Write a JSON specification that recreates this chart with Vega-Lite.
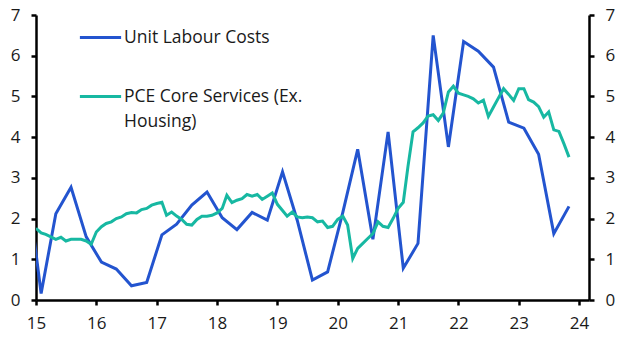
{
  "$schema": "https://vega.github.io/schema/vega-lite/v6.json",
  "width": 553,
  "height": 285,
  "autosize": {"type": "none"},
  "padding": {"left": 36, "top": 15, "right": 43, "bottom": 57},
  "background": "white",
  "config": {
    "font": "Open Sans",
    "view": {"stroke": null},
    "axis": {
      "grid": false,
      "domainColor": "#000000",
      "domainWidth": 2.5,
      "tickColor": "#000000",
      "tickWidth": 2.5,
      "tickSize": 5,
      "labelFont": "Open Sans",
      "labelFontSize": 17,
      "labelColor": "#1a1a1a",
      "title": null
    }
  },
  "datasets": {
    "ulc": [
      {"date": "2014-11-01", "series": "Unit Labour Costs", "value": 3.1},
      {"date": "2015-02-01", "series": "Unit Labour Costs", "value": 0.16},
      {"date": "2015-05-01", "series": "Unit Labour Costs", "value": 2.12},
      {"date": "2015-08-01", "series": "Unit Labour Costs", "value": 2.77},
      {"date": "2015-11-01", "series": "Unit Labour Costs", "value": 1.55},
      {"date": "2016-02-01", "series": "Unit Labour Costs", "value": 0.93},
      {"date": "2016-05-01", "series": "Unit Labour Costs", "value": 0.76},
      {"date": "2016-08-01", "series": "Unit Labour Costs", "value": 0.35},
      {"date": "2016-11-01", "series": "Unit Labour Costs", "value": 0.43},
      {"date": "2017-02-01", "series": "Unit Labour Costs", "value": 1.6},
      {"date": "2017-05-01", "series": "Unit Labour Costs", "value": 1.86},
      {"date": "2017-08-01", "series": "Unit Labour Costs", "value": 2.33},
      {"date": "2017-11-01", "series": "Unit Labour Costs", "value": 2.65},
      {"date": "2018-02-01", "series": "Unit Labour Costs", "value": 2.02},
      {"date": "2018-05-01", "series": "Unit Labour Costs", "value": 1.73},
      {"date": "2018-08-01", "series": "Unit Labour Costs", "value": 2.15},
      {"date": "2018-11-01", "series": "Unit Labour Costs", "value": 1.96},
      {"date": "2019-02-01", "series": "Unit Labour Costs", "value": 3.15},
      {"date": "2019-05-01", "series": "Unit Labour Costs", "value": 1.96},
      {"date": "2019-08-01", "series": "Unit Labour Costs", "value": 0.49},
      {"date": "2019-11-01", "series": "Unit Labour Costs", "value": 0.69},
      {"date": "2020-02-01", "series": "Unit Labour Costs", "value": 2.15},
      {"date": "2020-05-01", "series": "Unit Labour Costs", "value": 3.7},
      {"date": "2020-08-01", "series": "Unit Labour Costs", "value": 1.49},
      {"date": "2020-11-01", "series": "Unit Labour Costs", "value": 4.13},
      {"date": "2021-02-01", "series": "Unit Labour Costs", "value": 0.78},
      {"date": "2021-05-01", "series": "Unit Labour Costs", "value": 1.39},
      {"date": "2021-08-01", "series": "Unit Labour Costs", "value": 6.5},
      {"date": "2021-11-01", "series": "Unit Labour Costs", "value": 3.76},
      {"date": "2022-02-01", "series": "Unit Labour Costs", "value": 6.35},
      {"date": "2022-05-01", "series": "Unit Labour Costs", "value": 6.11},
      {"date": "2022-08-01", "series": "Unit Labour Costs", "value": 5.72},
      {"date": "2022-11-01", "series": "Unit Labour Costs", "value": 4.37},
      {"date": "2023-02-01", "series": "Unit Labour Costs", "value": 4.22},
      {"date": "2023-05-01", "series": "Unit Labour Costs", "value": 3.58},
      {"date": "2023-08-01", "series": "Unit Labour Costs", "value": 1.63},
      {"date": "2023-11-01", "series": "Unit Labour Costs", "value": 2.3}
    ],
    "pce": [
      {"date": "2015-01-01", "series": "PCE Core Services (Ex. Housing)", "value": 1.76},
      {"date": "2015-02-01", "series": "PCE Core Services (Ex. Housing)", "value": 1.65},
      {"date": "2015-03-01", "series": "PCE Core Services (Ex. Housing)", "value": 1.61},
      {"date": "2015-04-01", "series": "PCE Core Services (Ex. Housing)", "value": 1.55},
      {"date": "2015-05-01", "series": "PCE Core Services (Ex. Housing)", "value": 1.49},
      {"date": "2015-06-01", "series": "PCE Core Services (Ex. Housing)", "value": 1.54},
      {"date": "2015-07-01", "series": "PCE Core Services (Ex. Housing)", "value": 1.45},
      {"date": "2015-08-01", "series": "PCE Core Services (Ex. Housing)", "value": 1.49},
      {"date": "2015-09-01", "series": "PCE Core Services (Ex. Housing)", "value": 1.49},
      {"date": "2015-10-01", "series": "PCE Core Services (Ex. Housing)", "value": 1.49},
      {"date": "2015-11-01", "series": "PCE Core Services (Ex. Housing)", "value": 1.45},
      {"date": "2015-12-01", "series": "PCE Core Services (Ex. Housing)", "value": 1.37},
      {"date": "2016-01-01", "series": "PCE Core Services (Ex. Housing)", "value": 1.67},
      {"date": "2016-02-01", "series": "PCE Core Services (Ex. Housing)", "value": 1.8},
      {"date": "2016-03-01", "series": "PCE Core Services (Ex. Housing)", "value": 1.88},
      {"date": "2016-04-01", "series": "PCE Core Services (Ex. Housing)", "value": 1.92},
      {"date": "2016-05-01", "series": "PCE Core Services (Ex. Housing)", "value": 2.0},
      {"date": "2016-06-01", "series": "PCE Core Services (Ex. Housing)", "value": 2.04},
      {"date": "2016-07-01", "series": "PCE Core Services (Ex. Housing)", "value": 2.12},
      {"date": "2016-08-01", "series": "PCE Core Services (Ex. Housing)", "value": 2.15},
      {"date": "2016-09-01", "series": "PCE Core Services (Ex. Housing)", "value": 2.14},
      {"date": "2016-10-01", "series": "PCE Core Services (Ex. Housing)", "value": 2.22},
      {"date": "2016-11-01", "series": "PCE Core Services (Ex. Housing)", "value": 2.25},
      {"date": "2016-12-01", "series": "PCE Core Services (Ex. Housing)", "value": 2.33},
      {"date": "2017-01-01", "series": "PCE Core Services (Ex. Housing)", "value": 2.37},
      {"date": "2017-02-01", "series": "PCE Core Services (Ex. Housing)", "value": 2.4},
      {"date": "2017-03-01", "series": "PCE Core Services (Ex. Housing)", "value": 2.08},
      {"date": "2017-04-01", "series": "PCE Core Services (Ex. Housing)", "value": 2.16},
      {"date": "2017-05-01", "series": "PCE Core Services (Ex. Housing)", "value": 2.06},
      {"date": "2017-06-01", "series": "PCE Core Services (Ex. Housing)", "value": 1.98},
      {"date": "2017-07-01", "series": "PCE Core Services (Ex. Housing)", "value": 1.86},
      {"date": "2017-08-01", "series": "PCE Core Services (Ex. Housing)", "value": 1.84},
      {"date": "2017-09-01", "series": "PCE Core Services (Ex. Housing)", "value": 1.98},
      {"date": "2017-10-01", "series": "PCE Core Services (Ex. Housing)", "value": 2.06},
      {"date": "2017-11-01", "series": "PCE Core Services (Ex. Housing)", "value": 2.06},
      {"date": "2017-12-01", "series": "PCE Core Services (Ex. Housing)", "value": 2.08},
      {"date": "2018-01-01", "series": "PCE Core Services (Ex. Housing)", "value": 2.14},
      {"date": "2018-02-01", "series": "PCE Core Services (Ex. Housing)", "value": 2.25},
      {"date": "2018-03-01", "series": "PCE Core Services (Ex. Housing)", "value": 2.57},
      {"date": "2018-04-01", "series": "PCE Core Services (Ex. Housing)", "value": 2.39},
      {"date": "2018-05-01", "series": "PCE Core Services (Ex. Housing)", "value": 2.45},
      {"date": "2018-06-01", "series": "PCE Core Services (Ex. Housing)", "value": 2.49},
      {"date": "2018-07-01", "series": "PCE Core Services (Ex. Housing)", "value": 2.59},
      {"date": "2018-08-01", "series": "PCE Core Services (Ex. Housing)", "value": 2.55},
      {"date": "2018-09-01", "series": "PCE Core Services (Ex. Housing)", "value": 2.59},
      {"date": "2018-10-01", "series": "PCE Core Services (Ex. Housing)", "value": 2.47},
      {"date": "2018-11-01", "series": "PCE Core Services (Ex. Housing)", "value": 2.55},
      {"date": "2018-12-01", "series": "PCE Core Services (Ex. Housing)", "value": 2.63},
      {"date": "2019-01-01", "series": "PCE Core Services (Ex. Housing)", "value": 2.35},
      {"date": "2019-02-01", "series": "PCE Core Services (Ex. Housing)", "value": 2.2},
      {"date": "2019-03-01", "series": "PCE Core Services (Ex. Housing)", "value": 2.06},
      {"date": "2019-04-01", "series": "PCE Core Services (Ex. Housing)", "value": 2.16},
      {"date": "2019-05-01", "series": "PCE Core Services (Ex. Housing)", "value": 2.04},
      {"date": "2019-06-01", "series": "PCE Core Services (Ex. Housing)", "value": 2.02},
      {"date": "2019-07-01", "series": "PCE Core Services (Ex. Housing)", "value": 2.04},
      {"date": "2019-08-01", "series": "PCE Core Services (Ex. Housing)", "value": 2.02},
      {"date": "2019-09-01", "series": "PCE Core Services (Ex. Housing)", "value": 1.92},
      {"date": "2019-10-01", "series": "PCE Core Services (Ex. Housing)", "value": 1.94},
      {"date": "2019-11-01", "series": "PCE Core Services (Ex. Housing)", "value": 1.78},
      {"date": "2019-12-01", "series": "PCE Core Services (Ex. Housing)", "value": 1.81},
      {"date": "2020-01-01", "series": "PCE Core Services (Ex. Housing)", "value": 1.98},
      {"date": "2020-02-01", "series": "PCE Core Services (Ex. Housing)", "value": 2.06},
      {"date": "2020-03-01", "series": "PCE Core Services (Ex. Housing)", "value": 1.84},
      {"date": "2020-04-01", "series": "PCE Core Services (Ex. Housing)", "value": 1.02},
      {"date": "2020-05-01", "series": "PCE Core Services (Ex. Housing)", "value": 1.27},
      {"date": "2020-06-01", "series": "PCE Core Services (Ex. Housing)", "value": 1.39},
      {"date": "2020-07-01", "series": "PCE Core Services (Ex. Housing)", "value": 1.51},
      {"date": "2020-08-01", "series": "PCE Core Services (Ex. Housing)", "value": 1.63},
      {"date": "2020-09-01", "series": "PCE Core Services (Ex. Housing)", "value": 1.92},
      {"date": "2020-10-01", "series": "PCE Core Services (Ex. Housing)", "value": 1.81},
      {"date": "2020-11-01", "series": "PCE Core Services (Ex. Housing)", "value": 1.78},
      {"date": "2020-12-01", "series": "PCE Core Services (Ex. Housing)", "value": 2.0},
      {"date": "2021-01-01", "series": "PCE Core Services (Ex. Housing)", "value": 2.25},
      {"date": "2021-02-01", "series": "PCE Core Services (Ex. Housing)", "value": 2.4},
      {"date": "2021-03-01", "series": "PCE Core Services (Ex. Housing)", "value": 3.27},
      {"date": "2021-04-01", "series": "PCE Core Services (Ex. Housing)", "value": 4.13},
      {"date": "2021-05-01", "series": "PCE Core Services (Ex. Housing)", "value": 4.23},
      {"date": "2021-06-01", "series": "PCE Core Services (Ex. Housing)", "value": 4.35},
      {"date": "2021-07-01", "series": "PCE Core Services (Ex. Housing)", "value": 4.52},
      {"date": "2021-08-01", "series": "PCE Core Services (Ex. Housing)", "value": 4.55},
      {"date": "2021-09-01", "series": "PCE Core Services (Ex. Housing)", "value": 4.41},
      {"date": "2021-10-01", "series": "PCE Core Services (Ex. Housing)", "value": 4.59},
      {"date": "2021-11-01", "series": "PCE Core Services (Ex. Housing)", "value": 5.11},
      {"date": "2021-12-01", "series": "PCE Core Services (Ex. Housing)", "value": 5.25},
      {"date": "2022-01-01", "series": "PCE Core Services (Ex. Housing)", "value": 5.08},
      {"date": "2022-02-01", "series": "PCE Core Services (Ex. Housing)", "value": 5.04},
      {"date": "2022-03-01", "series": "PCE Core Services (Ex. Housing)", "value": 5.0},
      {"date": "2022-04-01", "series": "PCE Core Services (Ex. Housing)", "value": 4.94},
      {"date": "2022-05-01", "series": "PCE Core Services (Ex. Housing)", "value": 4.84},
      {"date": "2022-06-01", "series": "PCE Core Services (Ex. Housing)", "value": 4.91},
      {"date": "2022-07-01", "series": "PCE Core Services (Ex. Housing)", "value": 4.51},
      {"date": "2022-08-01", "series": "PCE Core Services (Ex. Housing)", "value": 4.74},
      {"date": "2022-09-01", "series": "PCE Core Services (Ex. Housing)", "value": 4.97},
      {"date": "2022-10-01", "series": "PCE Core Services (Ex. Housing)", "value": 5.19},
      {"date": "2022-11-01", "series": "PCE Core Services (Ex. Housing)", "value": 5.05},
      {"date": "2022-12-01", "series": "PCE Core Services (Ex. Housing)", "value": 4.9},
      {"date": "2023-01-01", "series": "PCE Core Services (Ex. Housing)", "value": 5.19},
      {"date": "2023-02-01", "series": "PCE Core Services (Ex. Housing)", "value": 5.19},
      {"date": "2023-03-01", "series": "PCE Core Services (Ex. Housing)", "value": 4.92},
      {"date": "2023-04-01", "series": "PCE Core Services (Ex. Housing)", "value": 4.86},
      {"date": "2023-05-01", "series": "PCE Core Services (Ex. Housing)", "value": 4.75},
      {"date": "2023-06-01", "series": "PCE Core Services (Ex. Housing)", "value": 4.49},
      {"date": "2023-07-01", "series": "PCE Core Services (Ex. Housing)", "value": 4.62},
      {"date": "2023-08-01", "series": "PCE Core Services (Ex. Housing)", "value": 4.18},
      {"date": "2023-09-01", "series": "PCE Core Services (Ex. Housing)", "value": 4.14},
      {"date": "2023-10-01", "series": "PCE Core Services (Ex. Housing)", "value": 3.84},
      {"date": "2023-11-01", "series": "PCE Core Services (Ex. Housing)", "value": 3.51}
    ]
  },
  "layer": [
    {
      "data": {"name": "ulc"},
      "mark": {"type": "line", "strokeWidth": 3, "clip": true},
      "encoding": {
        "x": {
          "field": "date",
          "type": "temporal",
          "scale": {"type": "utc", "domain": ["2015-01-01", "2024-03-01"]},
          "axis": {
            "format": "%y",
            "tickCount": {"interval": "year", "step": 1},
            "labelPadding": 10,
            "labelAlign": "center",
            "labelFlush": false
          }
        },
        "y": {
          "field": "value",
          "type": "quantitative",
          "scale": {"domain": [0, 7], "nice": false, "zero": true},
          "axis": {"orient": "left", "values": [0, 1, 2, 3, 4, 5, 6, 7], "labelPadding": 11}
        },
        "color": {
          "field": "series",
          "type": "nominal",
          "scale": {
            "domain": ["Unit Labour Costs", "PCE Core Services (Ex. Housing)"],
            "range": ["#2354cf", "#17b8a2"]
          },
          "legend": {
            "orient": "none",
            "legendX": 42,
            "legendY": 0,
            "title": null,
            "padding": 0,
            "symbolType": "stroke",
            "symbolSize": 1700,
            "symbolStrokeWidth": 3,
            "labelFont": "Open Sans",
            "labelFontSize": 17.5,
            "labelColor": "#1a1a1a",
            "labelOffset": 1,
            "labelLimit": 400,
            "rowPadding": 28,
            "labelExpr": "datum.label == 'PCE Core Services (Ex. Housing)' ? ['PCE Core Services (Ex.', 'Housing)'] : datum.label",
            "encode": {"labels": {"update": {"lineHeight": {"value": 25}}}}
          }
        }
      }
    },
    {
      "data": {"name": "pce"},
      "mark": {"type": "line", "strokeWidth": 3, "clip": true},
      "encoding": {
        "x": {"field": "date", "type": "temporal"},
        "y": {
          "field": "value",
          "type": "quantitative",
          "scale": {"domain": [0, 7], "nice": false, "zero": true},
          "axis": {"orient": "right", "values": [0, 1, 2, 3, 4, 5, 6, 7], "labelPadding": 11}
        },
        "color": {"field": "series", "type": "nominal"}
      }
    }
  ],
  "resolve": {"scale": {"y": "independent"}}
}
